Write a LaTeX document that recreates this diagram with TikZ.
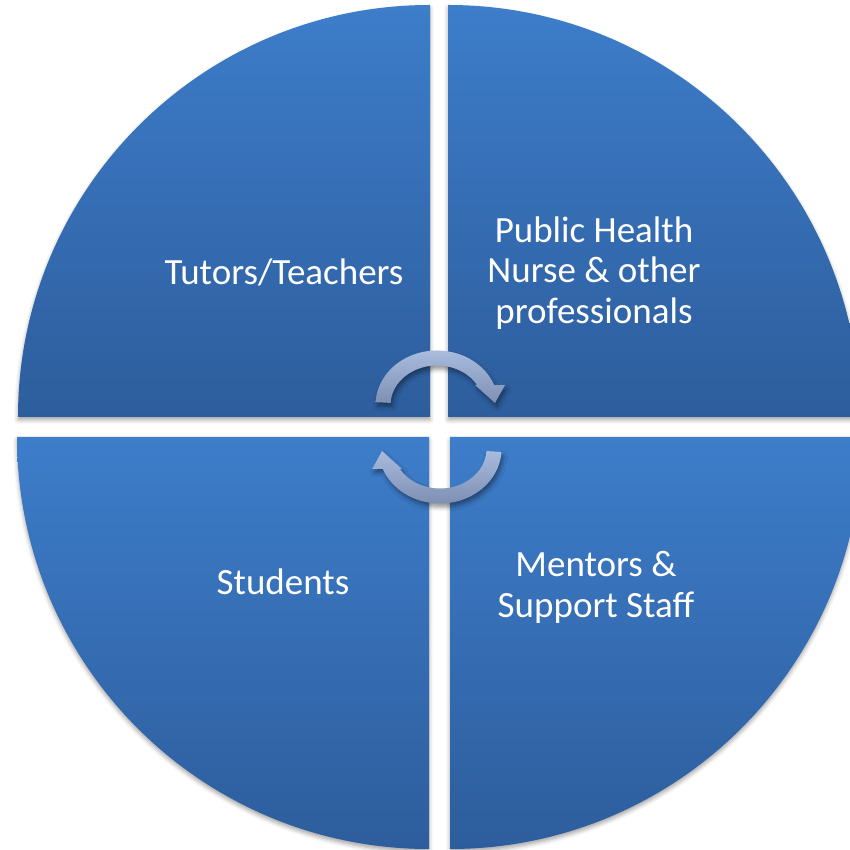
\documentclass[tikz,border=0pt]{standalone}
\usepackage{fontspec}
\setmainfont{Carlito}
\usetikzlibrary{shadows.blur}

\definecolor{quadlight}{HTML}{3D7DCA}
\definecolor{quaddark}{HTML}{2D5D9C}
\definecolor{arrowlight}{HTML}{AABDDF}
\definecolor{arrowdark}{HTML}{7C8FB3}

\begin{document}
\begin{tikzpicture}[x=1pt, y=1pt,
            quad/.style={top color=quadlight, bottom color=quaddark,
                blur shadow={shadow xshift=0pt, shadow yshift=-3pt, shadow blur radius=4pt, shadow opacity=35}},
            cyclearrow/.style={top color=arrowlight, bottom color=arrowdark,
                blur shadow={shadow xshift=2pt, shadow yshift=-4pt, shadow blur radius=4pt, shadow opacity=40}},
            quadtext/.style={text=white, align=center, font=\fontsize{37}{40.7}\selectfont}
        ]
            \clip (0,0) rectangle (850,850);
            % four quadrants
            \path[quad] (430,433) -- ++(-412,0) arc[start angle=180, end angle=90, radius=412] -- cycle;
            \path[quad] (448,433) -- ++(0,412) arc[start angle=90, end angle=0, radius=412] -- cycle;
            \path[quad] (429,413) -- ++(-412,0) arc[start angle=180, end angle=270, radius=412] -- cycle;
            \path[quad] (450,413) -- ++(412,0) arc[start angle=0, end angle=-90, radius=412] -- cycle;

            % circular arrows in the middle
            \path[cyclearrow] (437,445) ++(177:61.5 and 54.5)
                arc[start angle=177, end angle=21.5, x radius=61.5, y radius=54.5]
                -- (505,465) -- (495,447) -- (475,465) -- (477.1,465)
                arc[start angle=30.4, end angle=177, x radius=46.5, y radius=39.5] -- cycle;
            \path[cyclearrow] (440,401) ++(357:61.5 and 54.5)
                arc[start angle=357, end angle=201.5, x radius=61.5, y radius=54.5]
                -- (372,381) -- (382,399) -- (402,381) -- (399.9,381)
                arc[start angle=210.4, end angle=357, x radius=46.5, y radius=39.5] -- cycle;

            \node[quadtext] (tutors) at (284,578) {Tutors/Teachers};
            \node[quadtext] (health) at (594,577) {Public Health\\Nurse \& other\\professionals};
            \node[quadtext] (students) at (283,268) {Students};
            \node[quadtext] (mentors) at (596,263) {Mentors \&\\Support Staff};
        \end{tikzpicture}
\end{document}
